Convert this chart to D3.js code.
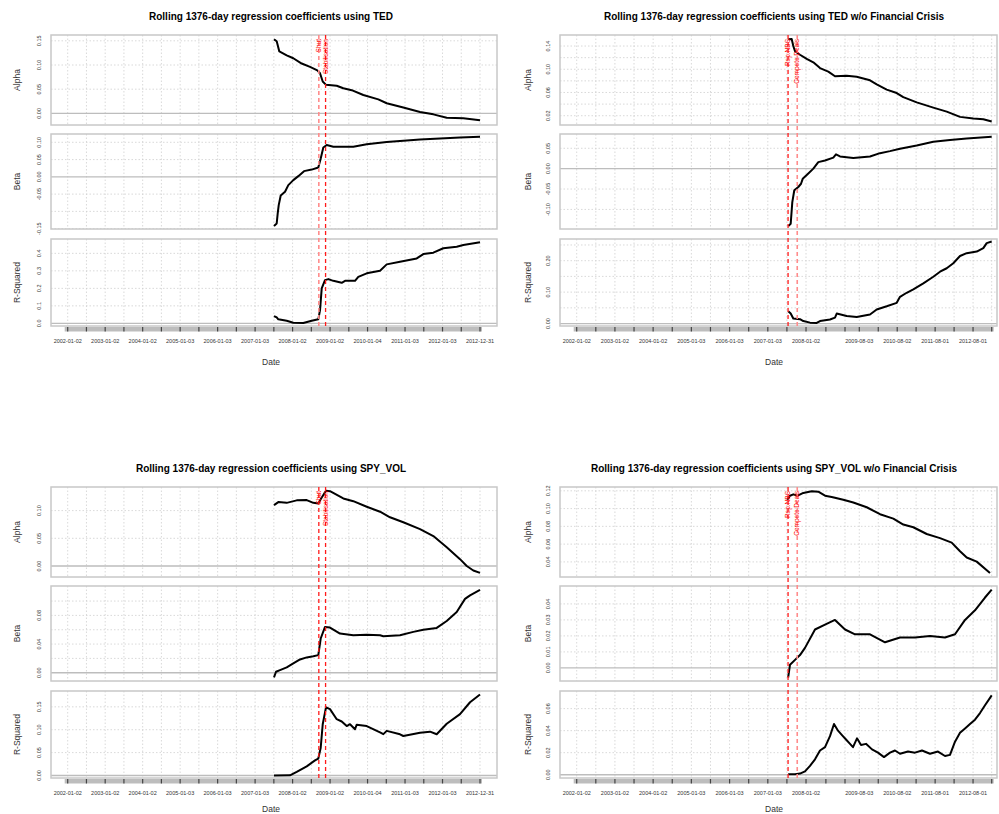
<!DOCTYPE html>
<html><head><meta charset="utf-8">
<script src="https://cdn.jsdelivr.net/npm/d3@7"></script>
<style>body{margin:0;background:#fff}</style>
</head><body><svg id="c" width="999" height="814"></svg>
<script>
// ---------- x axis: observation position, in trading years since 2002-01-02 ----------
const leftTickT = [0,0.5,1,1.5,2,2.5,3,3.5,4,4.5,5,5.5,6,6.5,7,7.5,8,8.5,9,9.5,10,10.5,11];
const leftLabelT = [0,1,2,3,4,5,6,7,8,9,10,11];
const leftLabels = ["2002-01-02","2003-01-02","2004-01-02","2005-01-03","2006-01-03","2007-01-03","2008-01-02","2009-01-02","2010-01-04","2011-01-03","2012-01-03","2012-12-31"];
const rightTickT = [0,0.5,1,1.5,2,2.5,3,3.5,4,4.5,5,5.5,6,6.52,7.02,7.394,7.89,8.386,8.88,9.378,9.874,10.37,10.858];
const rightLabelT = [0,1,2,3,4,5,6,7.394,8.386,9.378,10.37];
const rightLabels = ["2002-01-02","2003-01-02","2004-01-02","2005-01-03","2006-01-03","2007-01-03","2008-01-02","2009-08-03","2010-08-02","2011-08-01","2012-08-01"];

// ---------- events ----------
const leftEventT = [6.70, 6.88];
const leftEventLabels = ["Shut", "Stabilisation"];
const rightEventT = [5.53, 5.77];
const rightEventLabels = ["Rep.NBS", "Compete Deals"];

// ---------- series: [t, value] ----------
const tedAlpha = [[5.504,0.153],[5.576,0.149],[5.646,0.128],[5.843,0.120],[6.019,0.114],[6.243,0.103],[6.465,0.096],[6.660,0.089],[6.732,0.083],[6.804,0.066],[6.892,0.059],[7.177,0.057],[7.353,0.052],[7.577,0.048],[7.887,0.038],[8.287,0.029],[8.511,0.021],[8.954,0.012],[9.400,0.003],[9.755,-0.002],[10.112,-0.009],[10.555,-0.010],[11.0,-0.014]];
const tedBeta = [[5.504,-0.142],[5.576,-0.135],[5.603,-0.106],[5.630,-0.082],[5.683,-0.054],[5.798,-0.043],[5.886,-0.024],[6.019,-0.0095],[6.153,0.002],[6.305,0.0165],[6.510,0.021],[6.686,0.027],[6.750,0.053],[6.820,0.085],[6.910,0.092],[7.086,0.087],[7.620,0.087],[7.978,0.0945],[8.511,0.101],[9.400,0.108],[10.467,0.114],[11.0,0.116]];
const tedR2 = [[5.504,0.042],[5.576,0.034],[5.619,0.023],[5.843,0.015],[6.019,0.0035],[6.286,0.002],[6.510,0.015],[6.686,0.023],[6.732,0.076],[6.777,0.20],[6.865,0.247],[6.953,0.253],[7.086,0.243],[7.311,0.232],[7.399,0.243],[7.665,0.243],[7.753,0.266],[7.978,0.286],[8.333,0.301],[8.511,0.337],[8.866,0.352],[9.312,0.371],[9.488,0.396],[9.755,0.404],[10.021,0.429],[10.379,0.438],[10.555,0.448],[11.0,0.463]];

const tedExAlpha = [[5.536,0.1517],[5.625,0.152],[5.667,0.140],[5.712,0.131],[5.842,0.125],[6.018,0.118],[6.191,0.112],[6.366,0.102],[6.583,0.096],[6.758,0.088],[7.064,0.089],[7.326,0.087],[7.674,0.081],[7.849,0.074],[8.111,0.065],[8.373,0.059],[8.545,0.052],[8.896,0.043],[9.330,0.034],[9.681,0.027],[10.029,0.018],[10.377,0.015],[10.639,0.014],[10.858,0.010]];
const tedExBeta = [[5.536,-0.141],[5.599,-0.135],[5.641,-0.082],[5.693,-0.053],[5.798,-0.045],[5.869,-0.037],[5.913,-0.025],[6.060,-0.012],[6.191,0.000],[6.321,0.016],[6.497,0.020],[6.714,0.027],[6.784,0.035],[6.889,0.030],[7.237,0.026],[7.674,0.030],[7.936,0.038],[8.197,0.043],[8.459,0.049],[8.896,0.057],[9.330,0.066],[9.767,0.070],[10.204,0.074],[10.858,0.078]];
const tedExR2 = [[5.536,0.039],[5.599,0.032],[5.667,0.016],[5.842,0.014],[5.929,0.008],[6.104,0.003],[6.279,0.002],[6.366,0.008],[6.627,0.013],[6.758,0.019],[6.803,0.032],[7.064,0.024],[7.326,0.021],[7.674,0.029],[7.849,0.045],[8.111,0.055],[8.373,0.066],[8.459,0.085],[8.634,0.098],[8.807,0.109],[9.069,0.128],[9.330,0.149],[9.506,0.165],[9.681,0.176],[9.853,0.192],[10.029,0.215],[10.204,0.224],[10.466,0.229],[10.639,0.240],[10.727,0.256],[10.858,0.261]];

const spyAlpha = [[5.504,0.1098],[5.619,0.1154],[5.843,0.114],[6.110,0.1185],[6.377,0.119],[6.553,0.114],[6.686,0.113],[6.777,0.1235],[6.892,0.136],[6.998,0.135],[7.353,0.122],[7.620,0.117],[7.978,0.107],[8.333,0.098],[8.599,0.088],[8.954,0.079],[9.400,0.0666],[9.755,0.054],[10.112,0.034],[10.467,0.0124],[10.646,0.000],[10.822,-0.008],[11.0,-0.0124]];
const spyBeta = [[5.504,-0.0064],[5.558,0.0014],[5.664,0.0037],[5.843,0.0075],[6.019,0.013],[6.198,0.0186],[6.377,0.0214],[6.553,0.023],[6.686,0.0246],[6.750,0.0478],[6.865,0.0639],[6.998,0.063],[7.265,0.0547],[7.620,0.0524],[7.978,0.053],[8.333,0.0524],[8.421,0.051],[8.866,0.0524],[9.221,0.057],[9.488,0.060],[9.845,0.0625],[10.112,0.0722],[10.379,0.0847],[10.600,0.103],[10.734,0.108],[11.0,0.1155]];
const spyR2 = [[5.504,0.000],[5.931,0.0004],[6.110,0.008],[6.377,0.020],[6.598,0.033],[6.686,0.037],[6.750,0.0606],[6.804,0.112],[6.892,0.149],[6.998,0.145],[7.177,0.123],[7.311,0.118],[7.444,0.108],[7.532,0.112],[7.665,0.101],[7.711,0.111],[7.978,0.108],[8.333,0.094],[8.421,0.0903],[8.511,0.0975],[8.866,0.090],[8.954,0.0863],[9.400,0.0936],[9.667,0.0958],[9.845,0.090],[10.112,0.113],[10.467,0.134],[10.734,0.160],[11.0,0.177]];

const spyExAlpha = [[5.510,0.1099],[5.581,0.1145],[5.667,0.116],[5.782,0.1145],[5.929,0.1176],[6.149,0.1195],[6.321,0.119],[6.497,0.1145],[6.672,0.113],[6.975,0.1099],[7.237,0.1068],[7.588,0.1015],[7.936,0.0937],[8.284,0.0887],[8.545,0.082],[8.807,0.079],[9.158,0.0714],[9.506,0.0668],[9.811,0.0617],[10.029,0.052],[10.204,0.045],[10.466,0.0403],[10.813,0.0276]];
const spyExBeta = [[5.532,-0.006],[5.581,0.002],[5.712,0.005],[5.842,0.008],[5.973,0.0125],[6.235,0.024],[6.497,0.027],[6.758,0.030],[7.020,0.024],[7.282,0.021],[7.674,0.021],[8.067,0.016],[8.459,0.019],[8.851,0.019],[9.244,0.020],[9.636,0.019],[9.898,0.021],[10.160,0.030],[10.421,0.036],[10.683,0.044],[10.858,0.049]];
const spyExR2 = [[5.532,0.0005],[5.712,0.0005],[5.842,0.001],[5.973,0.003],[6.104,0.008],[6.235,0.014],[6.366,0.022],[6.497,0.025],[6.627,0.035],[6.732,0.046],[6.837,0.040],[6.941,0.036],[7.046,0.032],[7.151,0.028],[7.229,0.025],[7.334,0.033],[7.439,0.027],[7.569,0.028],[7.726,0.023],[7.883,0.020],[8.040,0.016],[8.197,0.020],[8.328,0.022],[8.459,0.019],[8.668,0.021],[8.851,0.020],[9.034,0.022],[9.244,0.019],[9.453,0.021],[9.636,0.017],[9.767,0.018],[9.898,0.030],[10.029,0.038],[10.160,0.042],[10.290,0.046],[10.421,0.050],[10.552,0.056],[10.683,0.063],[10.858,0.072]];

// ---------- y ticks per panel ----------
const tedAlphaTicks = [0,0.05,0.10,0.15], tedAlphaTickLabels = ["0.00","0.05","0.10","0.15"];
const tedBetaTicks = [-0.15,-0.10,-0.05,0,0.05,0.10], tedBetaTickLabels = ["-0.15","","-0.05","0.00","0.05","0.10"];
const tedR2Ticks = [0,0.1,0.2,0.3,0.4], tedR2TickLabels = ["0.0","0.1","0.2","0.3","0.4"];
const tedExAlphaTicks = [0.02,0.04,0.06,0.08,0.10,0.12,0.14], tedExAlphaTickLabels = ["0.02","","0.06","","0.10","","0.14"];
const tedExBetaTicks = [-0.10,-0.05,0,0.05], tedExBetaTickLabels = ["-0.10","-0.05","0.00","0.05"];
const tedExR2Ticks = [0,0.05,0.10,0.15,0.20,0.25], tedExR2TickLabels = ["0.00","","0.10","","0.20",""];
const spyAlphaTicks = [0,0.05,0.10], spyAlphaTickLabels = ["0.00","0.05","0.10"];
const spyBetaTicks = [0,0.02,0.04,0.06,0.08,0.10], spyBetaTickLabels = ["0.00","","0.04","","0.08",""];
const spyR2Ticks = [0,0.05,0.10,0.15], spyR2TickLabels = ["0.00","0.05","0.10","0.15"];
const spyExAlphaTicks = [0.04,0.06,0.08,0.10,0.12], spyExAlphaTickLabels = ["0.04","0.06","0.08","0.10","0.12"];
const spyExBetaTicks = [0,0.01,0.02,0.03,0.04], spyExBetaTickLabels = ["0.00","0.01","0.02","0.03","0.04"];
const spyExR2Ticks = [0,0.02,0.04,0.06], spyExR2TickLabels = ["0.00","0.02","0.04","0.06"];

const panelNames = ["Alpha","Beta","R-Squared"];

// ---------- drawing ----------
const FONT = "'Liberation Sans', Arial, Helvetica, sans-serif";
const svg = d3.select("#c").attr("font-family", FONT);
svg.append("rect").attr("width",999).attr("height",814).attr("fill","#fff");

const panelY = [[35,125],[134,229],[239,326]];

function drawChart(c) {
  const g = svg.append("g");
  const oy = c.oy;
  const x = d3.scaleLinear().domain([0, c.tEnd]).range(c.xRange);
  g.append("text").attr("x", c.titleX).attr("y", oy + 20).attr("text-anchor","middle")
    .attr("font-weight","bold").attr("font-size", 10).attr("fill","#000").text(c.title);

  c.panels.forEach((p, i) => {
    const top = panelY[i][0] + oy, bot = panelY[i][1] + oy;
    const y = d3.scaleLinear().domain(p.domain).range([bot, top]);
    const pg = g.append("g");
    pg.selectAll(".vg").data(c.ticks).join("line").attr("class","vg")
      .attr("x1", d => x(d)).attr("x2", d => x(d)).attr("y1", top).attr("y2", bot)
      .attr("stroke", "#cfcfcf").attr("stroke-width", 0.8).attr("stroke-dasharray", "1.5,2");
    pg.selectAll(".hg").data(p.ticks.filter(v => v !== 0)).join("line").attr("class","hg")
      .attr("x1", c.frame[0]).attr("x2", c.frame[1]).attr("y1", d => y(d)).attr("y2", d => y(d))
      .attr("stroke", "#cfcfcf").attr("stroke-width", 0.8).attr("stroke-dasharray", "1.5,2");
    if (p.domain[0] < 0 && p.domain[1] > 0) {
      pg.append("line").attr("x1", c.frame[0]).attr("x2", c.frame[1]).attr("y1", y(0)).attr("y2", y(0))
        .attr("stroke", "#bdbdbd").attr("stroke-width", 1.4);
    }
    pg.append("rect").attr("x", c.frame[0]).attr("y", top).attr("width", c.frame[1]-c.frame[0]).attr("height", bot-top)
      .attr("fill","none").attr("stroke","#c8c8c8").attr("stroke-width",1.5);
    pg.selectAll(".yl").data(p.ticks).join("text").attr("class","yl")
      .attr("transform", (d) => `translate(${c.yLabX},${y(d)}) rotate(-90)`)
      .attr("text-anchor","middle").attr("font-size", 5.5).attr("fill","#333")
      .text((d, j) => p.labels[j]);
    pg.append("text").attr("transform", `translate(${c.yTitleX},${(top+bot)/2}) rotate(-90)`)
      .attr("text-anchor","middle").attr("font-size", 8.5).attr("fill","#333").text(panelNames[i]);
    pg.append("path").datum(p.data)
      .attr("d", d3.line().x(d => x(d[0])).y(d => y(d[1])))
      .attr("fill","none").attr("stroke","#000").attr("stroke-width",2).attr("stroke-linejoin","round");
  });

  // event lines
  const eTop = panelY[0][0] + oy, eBot = panelY[2][1] + oy;
  g.selectAll(".ev").data(c.events).join("line").attr("class","ev")
    .attr("x1", d => x(d)).attr("x2", d => x(d)).attr("y1", eTop).attr("y2", eBot)
    .attr("stroke", (d, j) => c.eventColors[j]).attr("stroke-width", (d, j) => c.eventWidths[j])
    .attr("stroke-dasharray", "4,3");
  g.selectAll(".evl").data(c.events).join("text").attr("class","evl")
    .attr("transform", d => `translate(${x(d) + 2.2},${eTop + 4}) rotate(-90)`)
    .attr("text-anchor","end").attr("font-size", 6.5).attr("fill","#ff0000")
    .text((d, j) => c.eventLabels[j]);

  // x axis bar
  const barTop = 327 + oy;
  g.append("rect").attr("x", x(0) - 3).attr("y", barTop).attr("width", x(c.tEnd) - x(0) + 5).attr("height", 4.5)
    .attr("fill", "#bdbdbd");
  g.selectAll(".xt").data(c.ticks).join("line").attr("class","xt")
    .attr("x1", d => x(d)).attr("x2", d => x(d)).attr("y1", barTop).attr("y2", barTop + 4.5)
    .attr("stroke", "#444").attr("stroke-width", 1.2);
  g.selectAll(".xl").data(c.labelT).join("text").attr("class","xl")
    .attr("x", d => x(d)).attr("y", 342.5 + oy).attr("text-anchor","middle")
    .attr("font-size", 5.5).attr("fill","#333").text((d, j) => c.labels[j]);
  g.append("text").attr("x", c.titleX).attr("y", Math.min(365 + oy, 812)).attr("text-anchor","middle")
    .attr("font-size", 8.5).attr("fill","#333").text("Date");
}

const leftBase = { tEnd: 11, xRange: [67.7, 480], frame: [51, 497], titleX: 271, yLabX: 41, yTitleX: 19.5,
  ticks: leftTickT, labelT: leftLabelT, labels: leftLabels, events: leftEventT, eventLabels: leftEventLabels };
const rightBase = { tEnd: 10.858, xRange: [576.7, 991.7], frame: [560, 997], titleX: 774, yLabX: 550, yTitleX: 531,
  ticks: rightTickT, labelT: rightLabelT, labels: rightLabels, events: rightEventT, eventLabels: rightEventLabels };

drawChart(Object.assign({}, leftBase, { oy: 0, title: "Rolling 1376-day regression coefficients using TED",
  eventColors: ["#ff8c8c", "#ff1a1a"], eventWidths: [1.6, 1.3],
  panels: [
    { data: tedAlpha, domain: [-0.024, 0.162], ticks: tedAlphaTicks, labels: tedAlphaTickLabels },
    { data: tedBeta, domain: [-0.151, 0.124], ticks: tedBetaTicks, labels: tedBetaTickLabels },
    { data: tedR2, domain: [-0.015, 0.482], ticks: tedR2Ticks, labels: tedR2TickLabels } ] }));

drawChart(Object.assign({}, rightBase, { oy: 0, title: "Rolling 1376-day regression coefficients using TED w/o Financial Crisis",
  eventColors: ["#ff1a1a", "#ff8c8c"], eventWidths: [1.3, 1.6],
  panels: [
    { data: tedExAlpha, domain: [0.004, 0.159], ticks: tedExAlphaTicks, labels: tedExAlphaTickLabels },
    { data: tedExBeta, domain: [-0.148, 0.085], ticks: tedExBetaTicks, labels: tedExBetaTickLabels },
    { data: tedExR2, domain: [-0.0077, 0.269], ticks: tedExR2Ticks, labels: tedExR2TickLabels } ] }));

drawChart(Object.assign({}, leftBase, { oy: 452, title: "Rolling 1376-day regression coefficients using SPY_VOL",
  eventColors: ["#ff1a1a", "#ff1a1a"], eventWidths: [1.3, 1.3],
  panels: [
    { data: spyAlpha, domain: [-0.0198, 0.1426], ticks: spyAlphaTicks, labels: spyAlphaTickLabels },
    { data: spyBeta, domain: [-0.0115, 0.121], ticks: spyBetaTicks, labels: spyBetaTickLabels },
    { data: spyR2, domain: [-0.0055, 0.1846], ticks: spyR2Ticks, labels: spyR2TickLabels } ] }));

drawChart(Object.assign({}, rightBase, { oy: 452, title: "Rolling 1376-day regression coefficients using SPY_VOL w/o Financial Crisis",
  eventColors: ["#ff1a1a", "#ff8c8c"], eventWidths: [1.3, 1.6],
  panels: [
    { data: spyExAlpha, domain: [0.023, 0.1243], ticks: spyExAlphaTicks, labels: spyExAlphaTickLabels },
    { data: spyExBeta, domain: [-0.0082, 0.0512], ticks: spyExBetaTicks, labels: spyExBetaTickLabels },
    { data: spyExR2, domain: [-0.003, 0.076], ticks: spyExR2Ticks, labels: spyExR2TickLabels } ] }));
</script>
</body></html>
